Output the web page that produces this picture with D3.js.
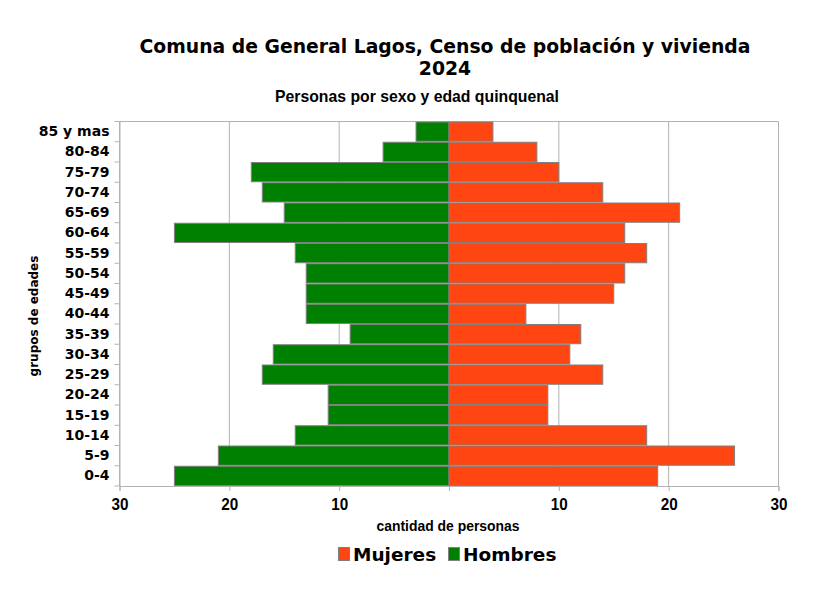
<!DOCTYPE html>
<html>
<head>
<meta charset="utf-8">
<script src="https://cdn.jsdelivr.net/npm/d3@7"></script>
<style>
  body { margin: 0; background: #fff; }
</style>
</head>
<body>
<div id="chart"></div>
<script>
// data (bottom row first)
var grupos = ["0-4", "5-9", "10-14", "15-19", "20-24", "25-29", "30-34", "35-39",
              "40-44", "45-49", "50-54", "55-59", "60-64", "65-69", "70-74",
              "75-79", "80-84", "85 y mas"];
var hombres = [25, 21, 14, 11, 11, 17, 16, 9, 13, 13, 13, 14, 25, 15, 17, 18, 6, 3];
var mujeres = [19, 26, 18, 9, 9, 14, 11, 12, 7, 15, 16, 18, 16, 21, 14, 10, 8, 4];
var xTicks = [-30, -20, -10, 0, 10, 20, 30];

var w = 832,
    h = 601;

var pLeft = 119.5, pRight = 778.5, pTop = 121.5, pBottom = 486;

var svg = d3.select("#chart")
	.append("svg")
	.attr("width", w)
	.attr("height", h);

var x = d3.scaleLinear()
	.domain([-30, 30])
	.range([pLeft, pRight]);

var y = d3.scaleBand()
	.domain(grupos.slice().reverse())
	.range([pTop, pBottom])
	.padding(0);

var grid = "#b3b3b3";
var narrow = "'Liberation Sans Narrow', 'Liberation Sans', sans-serif";

// vertical grid lines
svg.append("g")
	.selectAll("line")
	.data(xTicks.filter(function(d) { return d !== 0; }))
	.enter().append("line")
	.attr("x1", function(d) { return x(d); })
	.attr("x2", function(d) { return x(d); })
	.attr("y1", pTop)
	.attr("y2", pBottom)
	.style("stroke", grid)
	.style("stroke-width", 1);

// frame top line
svg.append("line")
	.attr("x1", pLeft).attr("x2", pRight)
	.attr("y1", pTop).attr("y2", pTop)
	.style("stroke", grid);

// bars
var bars = svg.append("g");

bars.selectAll("rect.h")
	.data(grupos)
	.enter().append("rect")
	.attr("class", "h")
	.attr("x", function(d, i) { return x(-hombres[i]); })
	.attr("y", function(d) { return y(d) + 0.5; })
	.attr("width", function(d, i) { return x(0) - x(-hombres[i]); })
	.attr("height", y.bandwidth() - 1)
	.style("fill", "#008000")
	.style("stroke", "#808080")
	.style("stroke-width", 1);

bars.selectAll("rect.m")
	.data(grupos)
	.enter().append("rect")
	.attr("class", "m")
	.attr("x", x(0))
	.attr("y", function(d) { return y(d) + 0.5; })
	.attr("width", function(d, i) { return x(mujeres[i]) - x(0); })
	.attr("height", y.bandwidth() - 1)
	.style("fill", "#ff4511")
	.style("stroke", "#808080")
	.style("stroke-width", 1);

// x axis
var xAxis = d3.axisBottom(x)
	.tickValues(xTicks)
	.tickSize(5)
	.tickFormat(function(d) { return d === 0 ? "" : Math.abs(d); });

var gx = svg.append("g")
	.attr("transform", "translate(0," + pBottom + ")")
	.call(xAxis);
gx.select(".domain").style("stroke", grid);
gx.selectAll(".tick line").style("stroke", grid);
gx.selectAll(".tick text")
	.attr("y", 8)
	.attr("dy", "0.95em")
	.attr("textLength", 17)
	.attr("lengthAdjust", "spacingAndGlyphs")
	.style("font-family", narrow)
	.style("font-weight", "bold")
	.style("font-size", "17px")
	.style("fill", "#000");

// y axis
var yAxis = d3.axisLeft(y)
	.tickSize(0)
	.tickPadding(10);

var gy = svg.append("g")
	.attr("transform", "translate(" + pLeft + ",0)")
	.call(yAxis);
gy.select(".domain").style("stroke", grid);
gy.selectAll(".tick text")
	.style("font-family", "'DejaVu Sans', sans-serif")
	.style("font-weight", "bold")
	.style("font-size", "14px")
	.style("fill", "#000");

// y tick marks on band edges
svg.append("g")
	.selectAll("line")
	.data(grupos.concat(["end"]))
	.enter().append("line")
	.attr("x1", pLeft - 5)
	.attr("x2", pLeft)
	.attr("y1", function(d) { return d === "end" ? pBottom : y(d); })
	.attr("y2", function(d) { return d === "end" ? pBottom : y(d); })
	.style("stroke", grid);

// right frame
svg.append("line")
	.attr("x1", pRight).attr("x2", pRight)
	.attr("y1", pTop).attr("y2", pBottom)
	.style("stroke", grid);

// titles
svg.append("text")
	.attr("x", 445)
	.attr("y", 53)
	.attr("text-anchor", "middle")
	.style("font-family", "'DejaVu Sans', sans-serif")
	.style("font-weight", "bold")
	.style("font-size", "18.8px")
	.text("Comuna de General Lagos, Censo de población y vivienda");

svg.append("text")
	.attr("x", 445)
	.attr("y", 75)
	.attr("text-anchor", "middle")
	.style("font-family", "'DejaVu Sans', sans-serif")
	.style("font-weight", "bold")
	.style("font-size", "18.8px")
	.text("2024");

svg.append("text")
	.attr("x", 417)
	.attr("y", 102)
	.attr("text-anchor", "middle")
	.attr("textLength", 284)
	.attr("lengthAdjust", "spacingAndGlyphs")
	.style("font-family", narrow)
	.style("font-weight", "bold")
	.style("font-size", "17px")
	.text("Personas por sexo y edad quinquenal");

svg.append("text")
	.attr("x", 448)
	.attr("y", 531)
	.attr("text-anchor", "middle")
	.attr("textLength", 143)
	.attr("lengthAdjust", "spacingAndGlyphs")
	.style("font-family", narrow)
	.style("font-weight", "bold")
	.style("font-size", "15px")
	.text("cantidad de personas");

svg.append("text")
	.attr("transform", "translate(38,316) rotate(-90)")
	.attr("text-anchor", "middle")
	.style("font-family", "'DejaVu Sans', sans-serif")
	.style("font-weight", "bold")
	.style("font-size", "12px")
	.text("grupos de edades");

// legend
var legend = [
	{ name: "Mujeres", color: "#ff4511", x: 338 },
	{ name: "Hombres", color: "#008000", x: 448 }
];

var lg = svg.append("g")
	.selectAll("g")
	.data(legend)
	.enter().append("g")
	.attr("transform", function(d) { return "translate(" + d.x + ",0)"; });

lg.append("rect")
	.attr("x", 0.5)
	.attr("y", 547.5)
	.attr("width", 11)
	.attr("height", 13)
	.style("fill", function(d) { return d.color; })
	.style("stroke", "#808080");

lg.append("text")
	.attr("x", 15)
	.attr("y", 561)
	.style("font-family", "'DejaVu Sans', sans-serif")
	.style("font-weight", "bold")
	.style("font-size", "18.5px")
	.text(function(d) { return d.name; });
</script>
</body>
</html>
